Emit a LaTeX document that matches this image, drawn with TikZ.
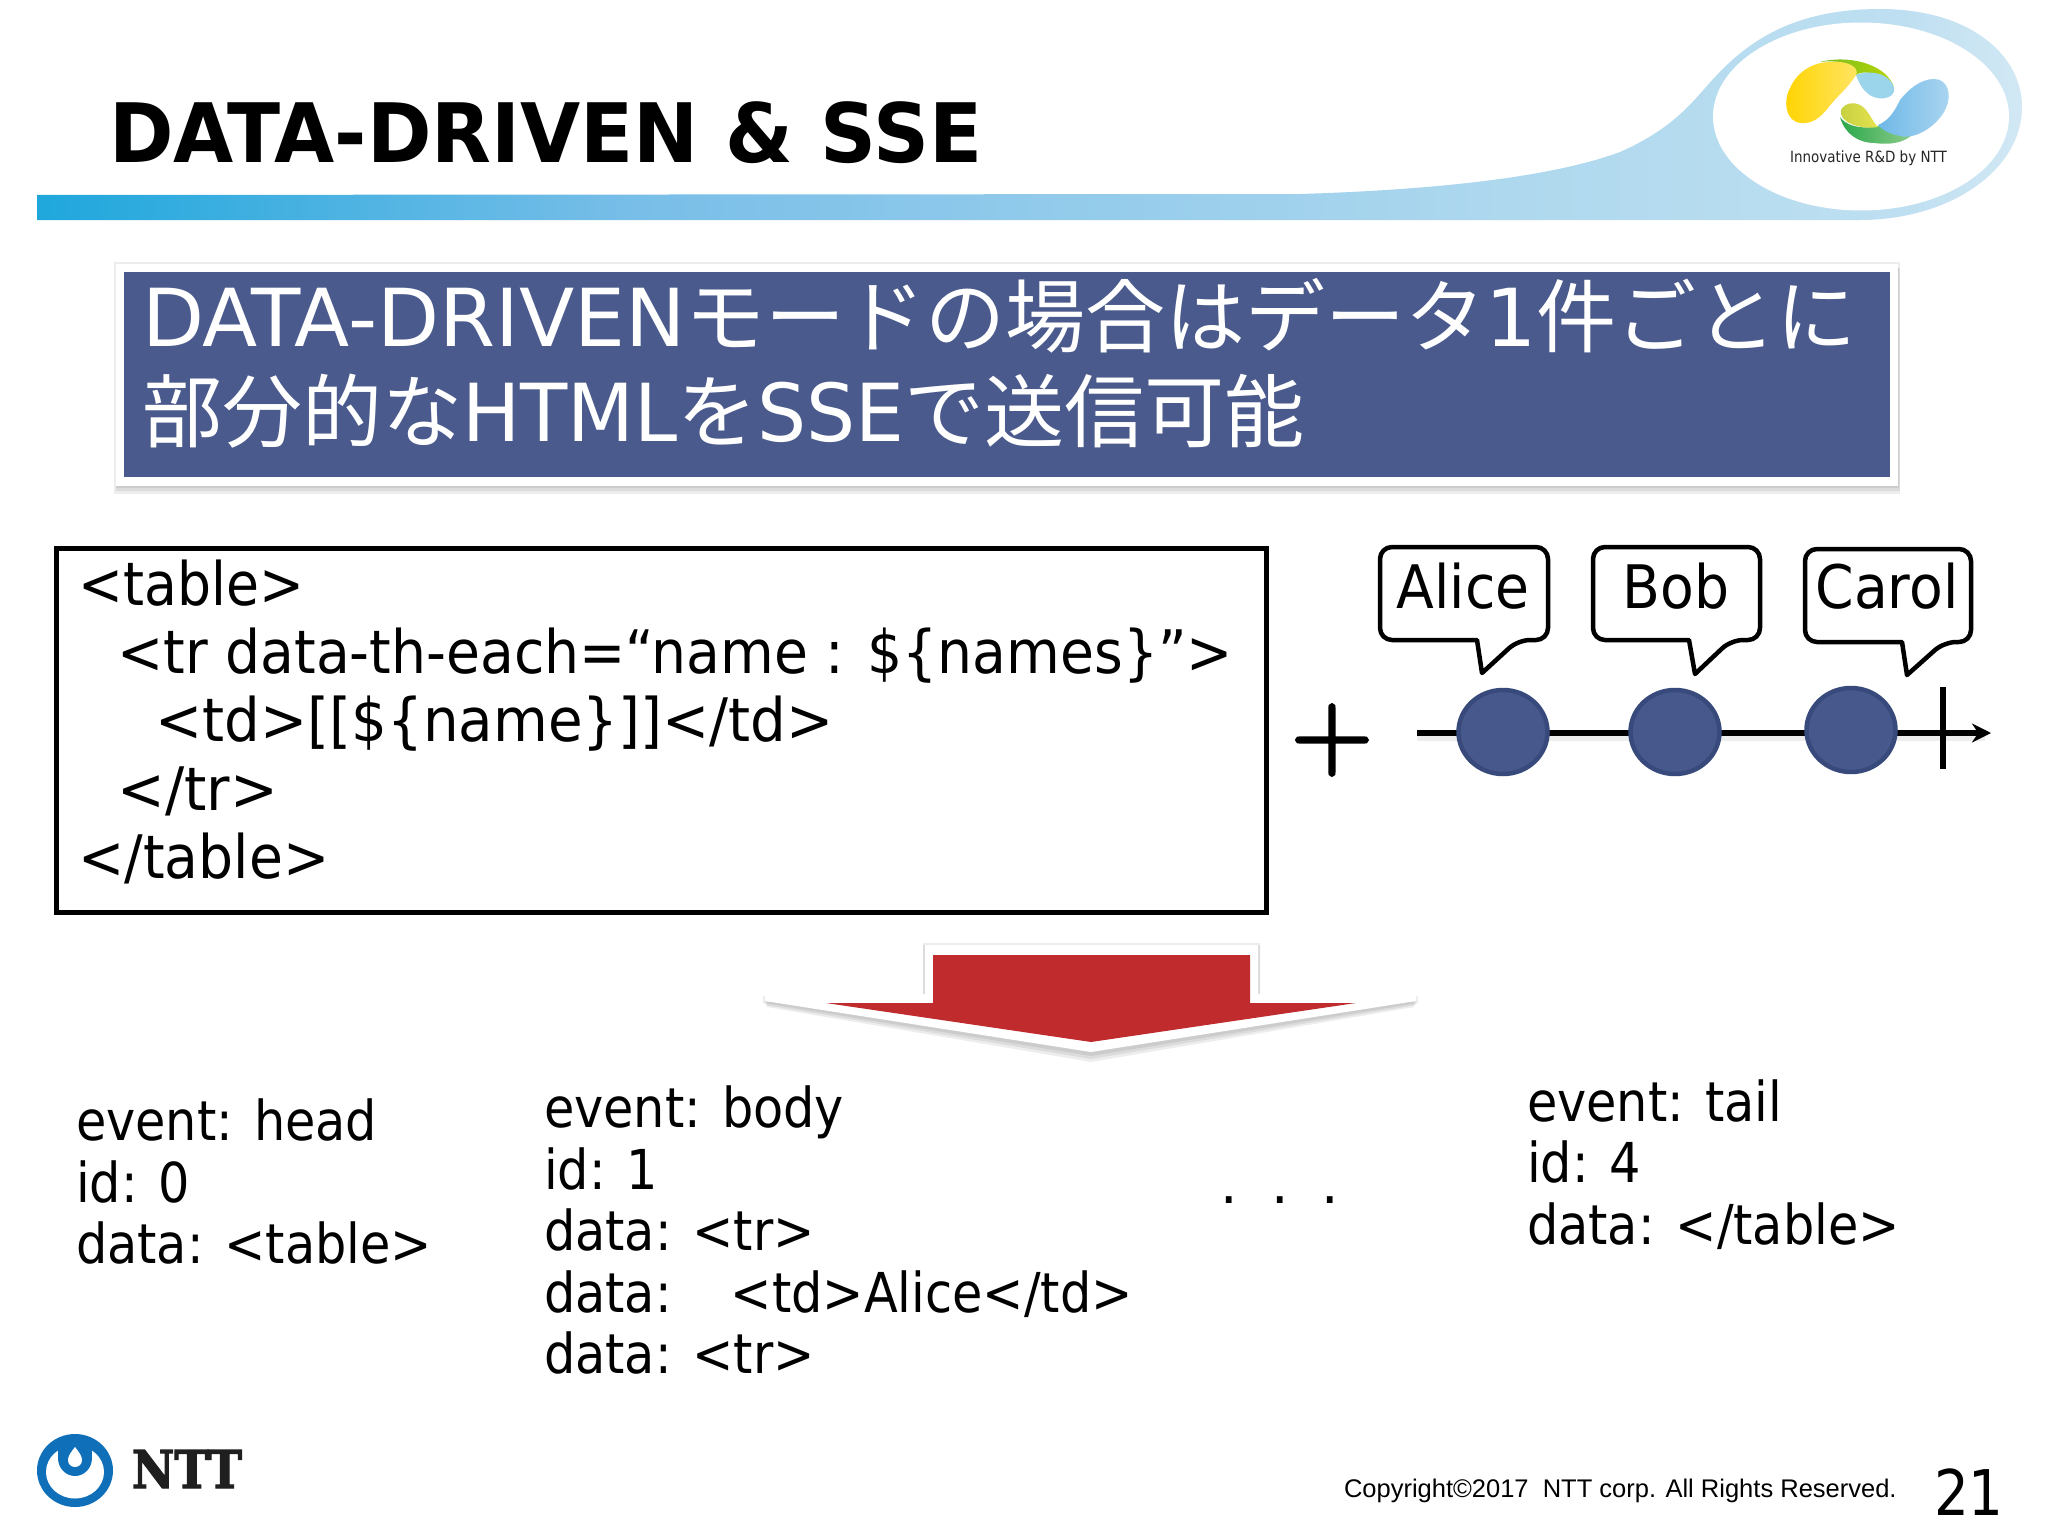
\documentclass[tikz,border=0pt]{standalone}
\usepackage{fontspec}
\usepackage{graphicx}
\usetikzlibrary{arrows.meta,shapes.geometric}
\setmainfont{DejaVu Sans}
\newfontfamily\cjk{Noto Sans CJK JP}
\newfontfamily\narrowfont[FakeStretch=0.87]{DejaVu Sans}
\newfontfamily\codefont[FakeStretch=0.92]{DejaVu Sans}
\newfontfamily\codetable[FakeStretch=0.893]{DejaVu Sans}
\newfontfamily\codetd[FakeStretch=0.938]{DejaVu Sans}
\newfontfamily\codetr[FakeStretch=0.95]{DejaVu Sans}
\newfontfamily\evfont[FakeStretch=0.897]{DejaVu Sans}
\newfontfamily\lonefont[FakeStretch=1.008]{DejaVu Sans}
\newfontfamily\ltwofont[FakeStretch=0.967]{DejaVu Sans}
\newfontfamily\titlefont[FakeStretch=0.948]{DejaVu Sans Bold}
\newfontfamily\arialfont{Liberation Sans}
\newfontfamily\slabfont[FakeBold=2.5]{DejaVu Serif Bold}
\newfontfamily\lmplus[FakeBold=3]{Latin Modern Roman}
\definecolor{bannerblue}{HTML}{4A5A8C}
\definecolor{arrowred}{HTML}{C02B2D}
\definecolor{dotfill}{HTML}{47598C}
\definecolor{dotedge}{HTML}{384A7C}
\definecolor{nttblue}{HTML}{0F6FB8}
\definecolor{barA}{HTML}{1FA7DC}
\definecolor{barB}{HTML}{78BEE8}
\definecolor{barC}{HTML}{AED8EE}
\definecolor{barD}{HTML}{BEDFF1}
\definecolor{barE}{HTML}{D2E8F4}
\definecolor{logoY}{HTML}{FFD400}
\definecolor{logoYb}{HTML}{FFE566}
\definecolor{logoB}{HTML}{6FB8E8}
\definecolor{logoBb}{HTML}{ABD6F0}
\definecolor{logoG}{HTML}{2AA84A}
\definecolor{logoGb}{HTML}{8CCB8A}
\definecolor{logoL}{HTML}{BCD400}
\definecolor{logoO}{HTML}{C4D040}
\definecolor{logoOb}{HTML}{E6E24E}
\definecolor{logoC}{HTML}{9AD5EC}
\pgfdeclarehorizontalshading{swoosh}{100bp}{color(0bp)=(barA);color(25bp)=(barA);color(40bp)=(barB);color(62bp)=(barC);color(72bp)=(barD);color(75bp)=(barE);color(100bp)=(barE)}
\tikzset{
  txt/.style={inner sep=0pt,outer sep=0pt,anchor=base west},
  codeline/.style={txt,font=\codefont\fontsize{60}{68.3}\selectfont},
  evblock/.style={inner sep=0pt,outer sep=0pt,anchor=north west,align=left,font=\evfont\fontsize{55}{61.5}\selectfont},
  bubble/.style={draw=black,fill=white,line width=4.5pt,rounded corners=12pt,line join=round},
  bubbletxt/.style={inner sep=0pt,outer sep=0pt,anchor=base,font=\codefont\fontsize{60}{60}\selectfont},
  dot/.style={ellipse,minimum width=89pt,minimum height=84pt,inner sep=0pt,draw=dotedge,fill=dotfill,line width=4.5pt},
  softshadow/.style={fill=black,opacity=0.07},
}
\begin{document}
\begin{tikzpicture}[x=1pt,y=-1pt]
\useasboundingbox (0,0) rectangle (2048,1536);
\fill[white] (0,0) rectangle (2048,1536);
% header swoosh
\shade[shading=swoosh] (37,195) -- (1300,194) .. controls (1430,190) and (1550,178) .. (1620,152)
  .. controls (1670,130) and (1690,105) .. (1706,87)
  .. controls (1740,48) and (1785,9) .. (1880,9)
  .. controls (1970,9) and (2022,55) .. (2022,107)
  .. controls (2022,170) and (1950,220) .. (1860,220) -- (37,220) -- cycle;
\fill[white] (1861,116.5) ellipse [x radius=148, y radius=94];
% logo
\shade[left color=logoG,right color=logoGb] (1840,117) .. controls (1845,135) and (1860,143) .. (1874,143)
  .. controls (1890,145) and (1902,143) .. (1911,136) -- (1878,126) .. controls (1860,130) and (1845,125) .. (1840,117) -- cycle;
\shade[left color=logoO,right color=logoOb] (1841,110) .. controls (1845,102) and (1858,100) .. (1866,110)
  .. controls (1872,118) and (1873,122) .. (1878,127) .. controls (1860,130) and (1838,122) .. (1841,110) -- cycle;
\shade[left color=logoG!50!logoL,right color=logoL] (1820,62) .. controls (1845,55) and (1885,62) .. (1894,87)
  .. controls (1880,72) and (1862,70) .. (1856,75) .. controls (1850,62) and (1835,60) .. (1820,62) -- cycle;
\fill[logoC] (1856,75) .. controls (1868,70) and (1890,72) .. (1894,88)
  .. controls (1896,100) and (1875,102) .. (1866,92) .. controls (1860,86) and (1858,80) .. (1856,75) -- cycle;
\shade[left color=logoY,right color=logoYb] (1801,123)
  .. controls (1785,122) and (1783,100) .. (1790,88)
  .. controls (1798,70) and (1815,62) .. (1830,62)
  .. controls (1848,60) and (1860,68) .. (1856,75)
  .. controls (1848,88) and (1838,95) .. (1828,108)
  .. controls (1820,118) and (1812,124) .. (1801,123) -- cycle;
\shade[left color=logoB,right color=logoBb] (1934,79)
  .. controls (1948,79) and (1952,95) .. (1946,108)
  .. controls (1938,126) and (1915,140) .. (1900,136)
  .. controls (1890,134) and (1882,130) .. (1878,125)
  .. controls (1890,120) and (1895,110) .. (1900,100)
  .. controls (1908,90) and (1920,79) .. (1934,79) -- cycle;
\node[txt,font=\narrowfont\fontsize{15.5}{15.5}\selectfont,text=black!85] (innov) at (1790,163) {Innovative R\&D by NTT};
% title
\node[txt,font=\titlefont\fontsize{82}{82}\selectfont] (title) at (109,162) {DATA-DRIVEN \& SSE};
% banner
\fill[softshadow] (116,268) rectangle (1899,488);
\fill[softshadow] (116,268) rectangle (1900,491);
\fill[softshadow] (114,262) rectangle (1900,494);
\fill[white] (116,264) rectangle (1898,486);
\fill[bannerblue] (124,272) rectangle (1890,477);
\node[txt,text=white,font=\lonefont\fontsize{80}{80}\selectfont] (bannerone) at (142,346) {DATA-DRIVEN{\cjk モードの場合はデータ}1{\cjk 件ごとに}};
\node[txt,text=white,font=\ltwofont\fontsize{80}{80}\selectfont] (bannertwo) at (142,441) {{\cjk 部分的な}HTML{\cjk を}SSE{\cjk で送信可能}};
% code box
\draw[black,line width=5pt,fill=white] (56,548) rectangle (1266,912);
\node[codeline,font=\codetable\fontsize{60}{68.3}\selectfont] (codeA) at (78.5,605) {<table>};
\node[codeline] (codeB) at (117.5,673) {<tr data-th-each=“name : \$\{names\}”>};
\node[codeline,font=\codetd\fontsize{60}{68.3}\selectfont] (codeC) at (155.5,741) {<td>[[\$\{name\}]]</td>};
\node[codeline,font=\codetr\fontsize{60}{68.3}\selectfont] (codeD) at (117.5,810) {</tr>};
\node[codeline] (codeE) at (78.5,878) {</table>};
% plus
\node[inner sep=0pt,font=\lmplus\fontsize{112}{112}\selectfont] (plus) at (1332,740) {+};
% timeline
\coordinate (tlstart) at (1417,733);
\coordinate (tlend) at (1991,733);
\coordinate (ticktop) at (1943,687);
\coordinate (tickbot) at (1943,769);
\fill[softshadow] (1417,735) rectangle (1985,741);
\draw[line width=6pt,-{Stealth[length=19pt,width=19pt]}] (tlstart) -- (tlend);
\draw[line width=6.5pt] (ticktop) -- (tickbot);
\node[dot] (dotA) at (1503,732) {};
\node[dot] (dotB) at (1675,732) {};
\node[dot] (dotC) at (1851,730) {};
% bubbles
\draw[bubble] (1477,640) -- (1380,640) -- (1380,547) -- (1548,547) -- (1548,640) -- (1518,640) [sharp corners] -- (1482,673) -- cycle;
\draw[bubble] (1689,640) -- (1593,640) -- (1593,547) -- (1760,547) -- (1760,640) -- (1731,640) [sharp corners] -- (1695,674) -- cycle;
\draw[bubble] (1902,642) -- (1805,642) -- (1805,549) -- (1971,549) -- (1971,642) -- (1944,642) [sharp corners] -- (1907,675) -- cycle;
\node[bubbletxt] (alice) at (1463,608) {Alice};
\node[bubbletxt] (bob) at (1676,608) {Bob};
\node[bubbletxt] (carol) at (1887,608) {Carol};
% big arrow
\fill[softshadow] (923,943) -- (1260,943) -- (1260,996) -- (1418,996) -- (1418,1003) -- (1091,1056) -- (763,1003) -- (763,996) -- (923,996) -- cycle;
\fill[softshadow] (923,945) -- (1260,945) -- (1260,1000) -- (1416,1000) -- (1416,1005) -- (1091,1059) -- (765,1005) -- (765,1000) -- (923,1000) -- cycle;
\fill[softshadow] (925,947) -- (1258,947) -- (1258,1002) -- (1414,1002) -- (1414,1007) -- (1091,1062) -- (767,1007) -- (767,1002) -- (925,1002) -- cycle;
\fill[white] (925,945) -- (1258,945) -- (1258,994) -- (1416,994) -- (1416,1001) -- (1091,1052) -- (765,1001) -- (765,994) -- (925,994) -- cycle;
\fill[arrowred] (933,955) -- (1250,955) -- (1250,1003) -- (1356,1003) -- (1091,1042) -- (826,1003) -- (933,1003) -- cycle;
% events
\node[evblock] (head) at (76,1099) {event: head\\id: 0\\data: <table>};
\node[evblock] (body) at (544,1086) {event: body\\id: 1\\data: <tr>\\data:\hspace{59pt}<td>Alice</td>\\data: <tr>};
\node[evblock] (tail) at (1527,1079.5) {event: tail\\id: 4\\data: </table>};
\node[inner sep=0pt,anchor=base,font=\fontsize{55}{55}\selectfont] (dots) at (1280,1203) {.\hspace{33pt}.\hspace{33pt}.};
% footer
\fill[nttblue] (75,1470.5) ellipse [x radius=38, y radius=36.5];
\fill[white] (75,1472) ellipse [x radius=29, y radius=26.5];
\fill[nttblue] (75,1458) ellipse [x radius=17, y radius=18];
\fill[nttblue] (58,1442) rectangle (92,1458);
\fill[white] (75,1447) .. controls (79,1452) and (82,1456) .. (82,1460) .. controls (82,1464) and (79,1467) .. (75,1467) .. controls (71,1467) and (68,1464) .. (68,1460) .. controls (68,1456) and (71,1452) .. (75,1447) -- cycle;
\node[inner sep=0pt,anchor=center,text=black!88] (ntt) at (187,1469) {\resizebox{110pt}{38pt}{\slabfont NTT}};
\node[txt,font=\arialfont\fontsize{25.5}{25.5}\selectfont] (copy) at (1344,1497) {Copyright©2017\ \ NTT corp. All Rights Reserved.};
\node[txt,font=\narrowfont\fontsize{63}{63}\selectfont] (page) at (1934,1515) {21};
\end{tikzpicture}
\end{document}
